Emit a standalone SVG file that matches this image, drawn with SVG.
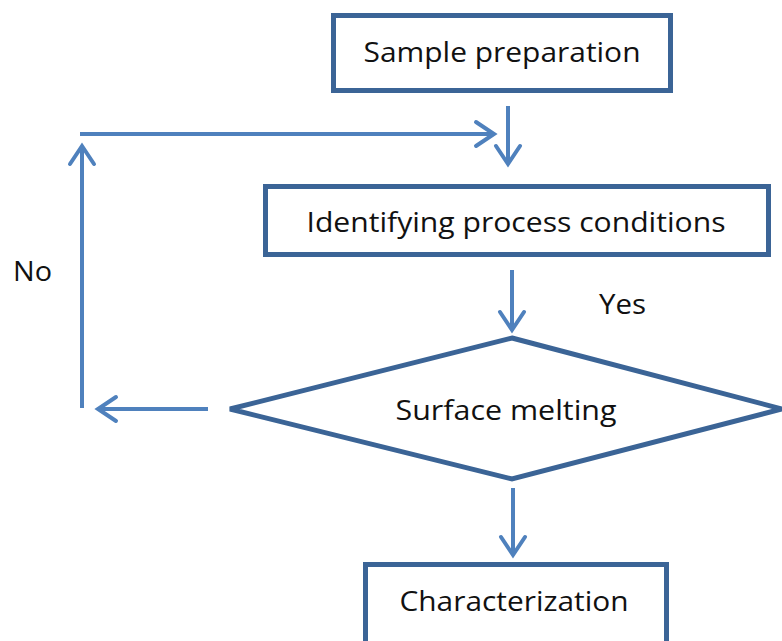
<svg xmlns="http://www.w3.org/2000/svg" width="782" height="641" viewBox="0 0 782 641">
<style>
.box{fill:#fff;stroke:#3b6496;stroke-width:5}
.lbl{font-family:"Open Sans","Liberation Sans",sans-serif;font-size:27px;fill:#111}
.conn{fill:none;stroke:#4f81bd;stroke-width:4}
</style>
<defs>
<marker id="ah" markerUnits="userSpaceOnUse" viewBox="-24 -16 28 32" refX="0" refY="0" markerWidth="28" markerHeight="32" orient="auto">
<path d="M-18,-12 L0,0 L-18,12" fill="none" stroke="#4f81bd" stroke-width="4" stroke-linecap="round" stroke-linejoin="miter"/>
</marker>
</defs>
<rect width="782" height="641" fill="#fff"/>
<g id="connectors">
<path class="conn" d="M508,106 V164" marker-end="url(#ah)"/>
<path class="conn" d="M80,134 H494" marker-end="url(#ah)"/>
<path class="conn" d="M82,408 V146" marker-end="url(#ah)"/>
<path class="conn" d="M512,270 V330" marker-end="url(#ah)"/>
<path class="conn" d="M208,409 H98" marker-end="url(#ah)"/>
<path class="conn" d="M513,488 V555" marker-end="url(#ah)"/>
</g>
<g id="sample"><rect class="box" x="333.5" y="15.5" width="337" height="75"/><text class="lbl" x="502" y="62" text-anchor="middle" textLength="277" lengthAdjust="spacingAndGlyphs">Sample preparation</text></g>
<g id="identify"><rect class="box" x="265.5" y="186.5" width="503" height="68"/><text class="lbl" x="516" y="232" text-anchor="middle" textLength="419" lengthAdjust="spacingAndGlyphs">Identifying process conditions</text></g>
<g id="melting"><polygon class="box" points="512,338 782,409 512,479 230,409"/><text class="lbl" x="506" y="420" text-anchor="middle" textLength="221" lengthAdjust="spacingAndGlyphs">Surface melting</text></g>
<g id="charact"><rect class="box" x="365.5" y="564.5" width="301" height="90"/><text class="lbl" x="514" y="611" text-anchor="middle" textLength="229" lengthAdjust="spacingAndGlyphs">Characterization</text></g>
<g id="labels"><text class="lbl" x="599" y="314" textLength="47" lengthAdjust="spacingAndGlyphs">Yes</text><text class="lbl" x="13" y="281" textLength="39" lengthAdjust="spacingAndGlyphs">No</text></g>
</svg>
